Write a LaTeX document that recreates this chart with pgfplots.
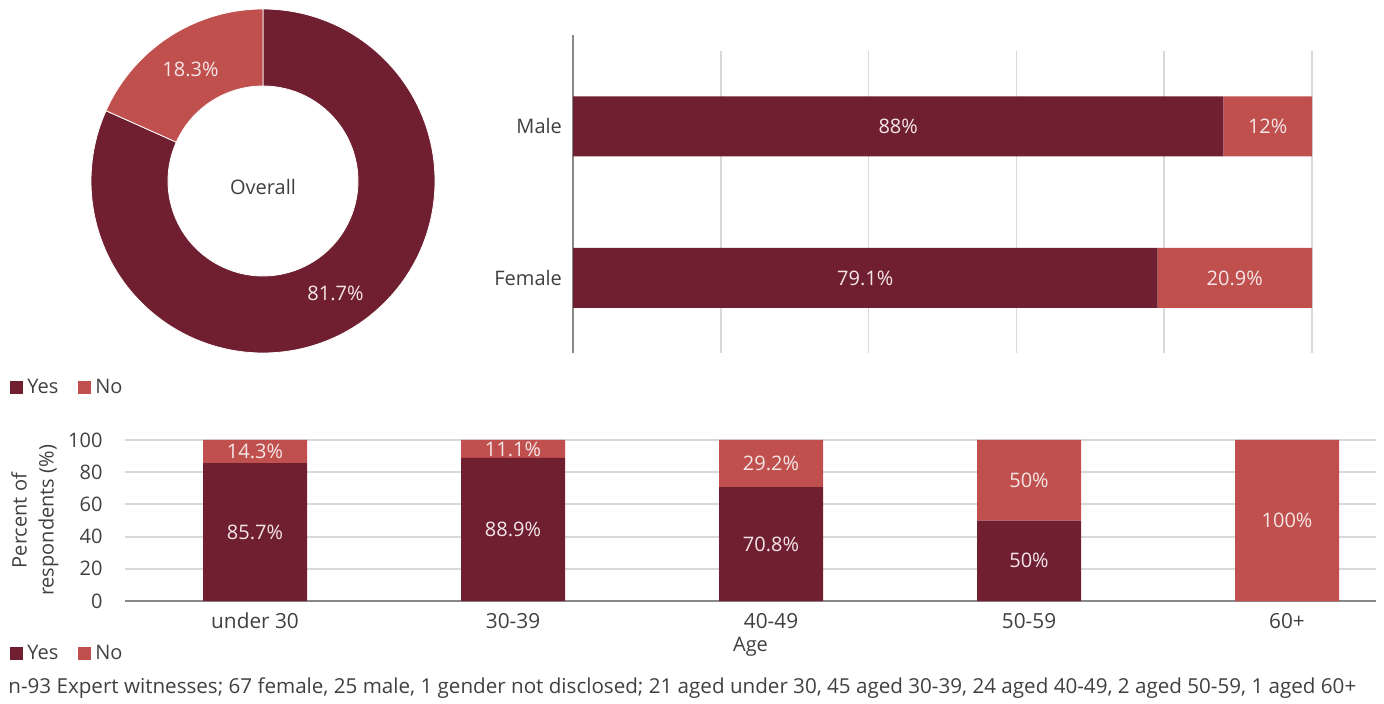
\documentclass[border=0pt]{standalone}
\usepackage{fontspec}
\setmainfont{Open Sans}
\usepackage{pgfplots}
\usepackage{pgfplotstable}
\pgfplotsset{compat=1.18}
\definecolor{yescol}{HTML}{6F1F2F}
\definecolor{nocol}{HTML}{C0504D}
\definecolor{txt}{HTML}{404040}
\definecolor{lbl}{HTML}{F4E6E7}
\definecolor{gridc}{HTML}{D9D9D9}
\definecolor{axc}{HTML}{888888}

\pgfplotstableread{
part val
yes 81.7
no 18.3
}\overalltable
\pgfplotstableread{
pos yes no
0 79.1 20.9
1 88 12
}\gendertable
\pgfplotstableread{
pos yes no
0 85.7 14.3
1 88.9 11.1
2 70.8 29.2
3 50 50
4 0 100
}\agetable

\pgfplotsset{/pgf/number format/assume math mode=true}

\begin{document}
\begin{tikzpicture}[every node/.append style={text=txt}]
\path (0,0) rectangle (692pt,-352pt);

\pgfplotstablegetelem{0}{val}\of\overalltable \let\yesval\pgfplotsretval
\pgfplotstablegetelem{1}{val}\of\overalltable \let\noval\pgfplotsretval
\pgfmathsetmacro\yesend{90-3.6*\yesval}
\pgfmathsetmacro\noend{90+3.6*\noval}
\pgfmathsetmacro\yesmid{90-1.8*\yesval}
\pgfmathsetmacro\nomid{90+1.8*\noval}

% ---------- donut ----------
\begin{axis}[
  at={(131.5pt,-90.5pt)}, anchor=center,
  width=172pt, height=172pt, scale only axis,
  xmin=-1, xmax=1, ymin=-1, ymax=1,
  hide axis, clip=false,
  legend image code/.code={\fill[#1] (0pt,-3.25pt) rectangle (6.5pt,3.25pt);},
  legend style={at={(axis description cs:-0.2355,-0.1017)}, anchor=west,
    draw=none, fill=none, inner sep=0pt, legend columns=-1,
    /tikz/every even column/.append style={column sep=8pt}},
]
\coordinate (c) at (axis cs:0,0);
\fill[yescol, draw=white, line width=0.4pt] (c) ++(90:86pt)
  arc[start angle=90, end angle=\yesend, radius=86pt]
  -- ++(\yesend+180:38.5pt)
  arc[start angle=\yesend, end angle=90, radius=47.5pt] -- cycle;
\fill[nocol, draw=white, line width=0.4pt] (c) ++(90:86pt)
  arc[start angle=90, end angle=\noend, radius=86pt]
  -- ++(\noend+180:38.5pt)
  arc[start angle=\noend, end angle=90, radius=47.5pt] -- cycle;
\path (c) ++(\yesmid:66.7pt) node[text=lbl] {\pgfmathprintnumber{\yesval}\%};
\path (c) ++(\nomid:66.7pt) node[text=lbl] {\pgfmathprintnumber{\noval}\%};
\node at ([yshift=-3pt]c) {Overall};
\addlegendimage{fill=yescol, draw=none}
\addlegendentry{Yes}
\addlegendimage{fill=nocol, draw=none}
\addlegendentry{No}
\end{axis}

% ---------- gender ----------
\begin{axis}[
  at={(286.5pt,-176.5pt)}, anchor=south west,
  width=369.5pt, height=151pt, scale only axis,
  xbar stacked, bar width=0.396,
  xmin=0, xmax=100, ymin=-0.495, ymax=1.498,
  xtick={0,20,...,100}, xticklabels={},
  xmajorgrids, grid style={gridc, line width=0.8pt},
  ytick={0,1}, yticklabels={Female,Male},
  axis lines*=left,
  x axis line style={draw=none},
  y axis line style={draw=axc, line width=0.6pt},
  major tick length=0pt,
  yticklabel style={xshift=-2pt},
  clip=false,
  nodes near coords={\pgfmathfloatifflags{\pgfplotspointmeta}{0}{}{\pgfmathprintnumber{\pgfplotspointmeta}\%}},
  nodes near coords align=center,
  every node near coord/.append style={text=lbl},
]
\addplot[fill=yescol, draw=none, point meta=\thisrow{yes}]
  table[x=yes, y=pos]{\gendertable};
\addplot[fill=nocol, draw=none, point meta=\thisrow{no}]
  table[x=no, y=pos]{\gendertable};
\draw[axc, line width=0.6pt] (axis cs:0,1.498) -- ([yshift=8pt]axis cs:0,1.498);
\end{axis}

% ---------- age ----------
\begin{axis}[
  at={(62.5pt,-300.5pt)}, anchor=south west,
  width=625.5pt, height=80.5pt, scale only axis,
  ybar stacked, bar width=0.403,
  xmin=-0.504, xmax=4.345, ymin=0, ymax=100,
  xtick={0,...,4}, xticklabels={under 30,30-39,40-49,50-59,60+},
  ytick={0,20,...,100},
  ymajorgrids, grid style={gridc, line width=1pt},
  axis lines*=left,
  y axis line style={draw=none},
  x axis line style={draw=axc, line width=1pt},
  major tick length=0pt,
  yticklabel style={xshift=-7.7pt},
  xticklabel style={yshift=-2.5pt, font=\fontsize{10.4}{12}\selectfont},
  xlabel={Age},
  xlabel style={at={(axis description cs:0.5,-0.2857)}, anchor=center},
  ylabel={Percent of\\[1.5pt]respondents (\%)},
  ylabel style={align=center, at={(axis description cs:-0.072,0.5)}, anchor=center},
  nodes near coords={\pgfmathfloatifflags{\pgfplotspointmeta}{0}{}{\pgfmathprintnumber{\pgfplotspointmeta}\%}},
  nodes near coords align=center,
  every node near coord/.append style={text=lbl},
  legend image code/.code={\fill[#1] (0pt,-3.25pt) rectangle (6.5pt,3.25pt);},
  legend style={at={(axis description cs:-0.0919,-0.329)}, anchor=west,
    draw=none, fill=none, inner sep=0pt, legend columns=-1,
    /tikz/every even column/.append style={column sep=8pt}},
]
\addplot[fill=yescol, draw=none, point meta=\thisrow{yes}]
  table[x=pos, y=yes]{\agetable};
\addlegendentry{Yes}
\addplot[fill=nocol, draw=none, point meta=\thisrow{no}]
  table[x=pos, y=no]{\agetable};
\addlegendentry{No}
\end{axis}

\node[anchor=west, inner sep=0pt, font=\fontsize{10.3}{12}\selectfont] at (4pt,-344pt) {n-93 Expert witnesses; 67 female, 25 male, 1 gender not disclosed; 21 aged under 30, 45 aged 30-39, 24 aged 40-49, 2 aged 50-59, 1 aged 60+};
\end{tikzpicture}
\end{document}
